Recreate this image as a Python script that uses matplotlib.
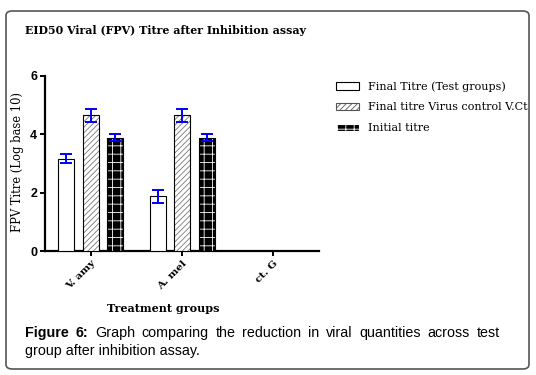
import numpy as np
import matplotlib
matplotlib.use('Agg')
import matplotlib.pyplot as plt
from matplotlib.patches import FancyBboxPatch, Patch

# данные
groups = ['V. amy', 'A. mel', 'ct. G']
final_test = [3.17, 1.88, 0.0]
final_test_err = [0.14, 0.22, 0.0]
virus_ctrl = [4.65, 4.65, 0.0]
virus_ctrl_err = [0.22, 0.22, 0.0]
initial = [3.89, 3.89, 0.0]
initial_err = [0.12, 0.12, 0.0]
series_names = ['Final Titre (Test groups)', 'Final titre Virus control V.Ct', 'Initial titre']

serif = 'DejaVu Serif'
sans = 'Liberation Sans'
plt.rcParams['hatch.linewidth'] = 0.6

fig = plt.figure(figsize=(5.36, 3.75), dpi=100)
W, H = 536, 375

# рамка вокруг рисунка
frame = FancyBboxPatch((6 / W, 6 / H), 523 / W, 358 / H,
                       boxstyle='round,pad=0,rounding_size=0.012',
                       transform=fig.transFigure, facecolor='white',
                       edgecolor='#555555', linewidth=1.2, zorder=-5)
fig.patches.append(frame)

ax = fig.add_axes([45 / W, 1 - 251 / H, (319 - 45) / W, (251 - 76) / H])
ax.patch.set_alpha(0)

x = np.arange(len(groups))
bw = 0.175
offs = [-0.265, 0.0, 0.27]
err_kw = dict(fmt='none', ecolor='#0000ff', elinewidth=1.4, capsize=4, capthick=1.4, zorder=5)


def draw_err(xs, vals, errs):
    # усы только там, где есть столбец
    vals = np.asarray(vals)
    m = vals > 0
    ax.errorbar(xs[m], vals[m], yerr=np.asarray(errs)[m], **err_kw)


# белые столбцы
ax.bar(x + offs[0], final_test, bw, facecolor='white', edgecolor='black', linewidth=0.8, zorder=3)
draw_err(x + offs[0], final_test, final_test_err)

# заштрихованные
ax.bar(x + offs[1], virus_ctrl, bw, facecolor='white', edgecolor='#777777', hatch='//////',
       linewidth=0, zorder=3)
ax.bar(x + offs[1], virus_ctrl, bw, facecolor='none', edgecolor='black', linewidth=0.8, zorder=3)
draw_err(x + offs[1], virus_ctrl, virus_ctrl_err)

# чёрные с узором
ax.bar(x + offs[2], initial, bw, facecolor='black', edgecolor='white', hatch='++',
       linewidth=0, zorder=3)
ax.bar(x + offs[2], initial, bw, facecolor='none', edgecolor='black', linewidth=0.8, zorder=3)
draw_err(x + offs[2], initial, initial_err)

ax.set_xlim(-0.5, 2.5)
ax.set_ylim(0, 6)
ax.set_yticks([0, 2, 4, 6])
ax.set_yticklabels(['0', '2', '4', '6'], fontfamily=sans, fontweight='bold', fontsize=9)
ax.set_xticks(x)
ax.set_xticklabels(groups, rotation=45, ha='right', rotation_mode='anchor',
                   fontfamily=serif, fontweight='bold', fontsize=7.5)
for s in ['top', 'right']:
    ax.spines[s].set_visible(False)
for s in ['left', 'bottom']:
    ax.spines[s].set_linewidth(1.6)
ax.tick_params(width=1.4, length=3.5, pad=2)

# легенда
handles = [Patch(facecolor='white', edgecolor='black', linewidth=0.8),
           Patch(facecolor='white', edgecolor='#555555', hatch='//////', linewidth=0.8),
           Patch(facecolor='black', edgecolor='white', hatch='++', linewidth=0.8)]
fig.legend(handles, series_names, loc='upper left', bbox_to_anchor=(336 / W, 1 - 81 / H),
           frameon=False, prop={'family': serif, 'size': 8}, handlelength=2.1,
           handleheight=0.7, handletextpad=0.75, labelspacing=0.98, borderpad=0,
           borderaxespad=0)

# подписи
fig.text(25 / W, 1 - 30 / H, 'EID50 Viral (FPV) Titre after Inhibition assay',
         fontfamily=serif, fontweight='bold', fontsize=7.9, va='center', ha='left')
fig.text(18 / W, 1 - 162 / H, 'FPV Titre (Log base 10)', rotation=90,
         fontfamily=serif, fontsize=8.3, va='center', ha='center')
fig.text(163 / W, 1 - 308 / H, 'Treatment groups', fontfamily=serif, fontweight='bold',
         fontsize=8, va='center', ha='center')

# подпись к рисунку, первая строка выровнена по ширине
line1 = [('Figure', 'bold'), ('6:', 'bold'), ('Graph', 'normal'), ('comparing', 'normal'),
         ('the', 'normal'), ('reduction', 'normal'), ('in', 'normal'), ('viral', 'normal'),
         ('quantities', 'normal'), ('across', 'normal'), ('test', 'normal')]
renderer = fig.canvas.get_renderer()
words = []
total = 0
for w, fw in line1:
    t = fig.text(0, 1 - 333 / H, w, fontfamily=sans, fontweight=fw, fontsize=10.3,
                 va='center', ha='left')
    wd = t.get_window_extent(renderer).width
    words.append((t, wd))
    total += wd
gap = (500 - 25 - total) / (len(words) - 1)
xpos = 25
for t, wd in words:
    t.set_x(xpos / W)
    xpos += wd + gap
fig.text(25 / W, 1 - 351 / H, 'group after inhibition assay.', fontfamily=sans,
         fontsize=10.3, va='center', ha='left')

fig.savefig('out.png', dpi=100)
